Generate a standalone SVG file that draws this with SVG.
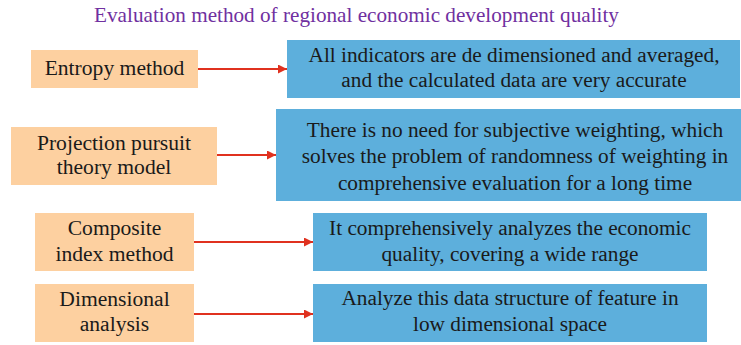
<svg xmlns="http://www.w3.org/2000/svg" width="741" height="345" viewBox="0 0 741 345">
<defs>
<style>
text{font-family:'Liberation Serif','Tinos','DejaVu Serif','Noto Serif',serif}
.t{font-size:21.3px;fill:#1a1a1a;text-anchor:middle}
.s{font-size:21.6px}
.title{font-size:21.2px;fill:#7030a0;text-anchor:middle}
.src{fill:#fdd0a0}
.dst{fill:#5dafdc}
.arr{stroke:#e0311f;stroke-width:2;fill:none;marker-end:url(#ah)}
</style>
<marker id="ah" viewBox="0 0 10 10" refX="10" refY="5" markerWidth="5" markerHeight="4.5" orient="auto" markerUnits="strokeWidth">
<path d="M0,0 L10,5 L0,10 z" fill="#e0311f"/>
</marker>
</defs>
<rect width="741" height="345" fill="#ffffff"/>
<text class="title" x="356.5" y="22">Evaluation method of regional economic development quality</text>
<g id="connectors">
<line class="arr" x1="198" y1="69" x2="287" y2="69"/>
<line class="arr" x1="217" y1="155" x2="276" y2="155"/>
<line class="arr" x1="194" y1="242" x2="313" y2="242"/>
<line class="arr" x1="194" y1="314" x2="313" y2="314"/>
</g>
<g id="n1">
<rect class="src" x="31" y="50" width="167" height="38"/>
<text class="t s" x="114.5" y="75">Entropy method</text>
</g>
<g id="n1d">
<rect class="dst" x="287" y="40" width="453" height="58"/>
<text class="t" x="514" y="62">All indicators are de dimensioned and averaged,</text>
<text class="t" x="514" y="87">and the calculated data are very accurate</text>
</g>
<g id="n2">
<rect class="src" x="11" y="127" width="206" height="58"/>
<text class="t s" x="114" y="150">Projection pursuit</text>
<text class="t s" x="114" y="174">theory model</text>
</g>
<g id="n2d">
<rect class="dst" x="276" y="109" width="465" height="92"/>
<text class="t" x="515" y="137">There is no need for subjective weighting, which</text>
<text class="t" x="515" y="163">solves the problem of randomness of weighting in</text>
<text class="t" x="515" y="190">comprehensive evaluation for a long time</text>
</g>
<g id="n3">
<rect class="src" x="35" y="213" width="159" height="58"/>
<text class="t s" x="114.5" y="235">Composite</text>
<text class="t s" x="114.5" y="261">index method</text>
</g>
<g id="n3d">
<rect class="dst" x="313" y="213" width="394" height="58"/>
<text class="t" x="510" y="235">It comprehensively analyzes the economic</text>
<text class="t" x="510" y="261">quality, covering a wide range</text>
</g>
<g id="n4">
<rect class="src" x="35" y="284" width="159" height="58"/>
<text class="t s" x="114.5" y="306">Dimensional</text>
<text class="t s" x="114.5" y="331">analysis</text>
</g>
<g id="n4d">
<rect class="dst" x="313" y="284" width="394" height="58"/>
<text class="t" x="510" y="305">Analyze this data structure of feature in</text>
<text class="t" x="510" y="331">low dimensional space</text>
</g>
</svg>
